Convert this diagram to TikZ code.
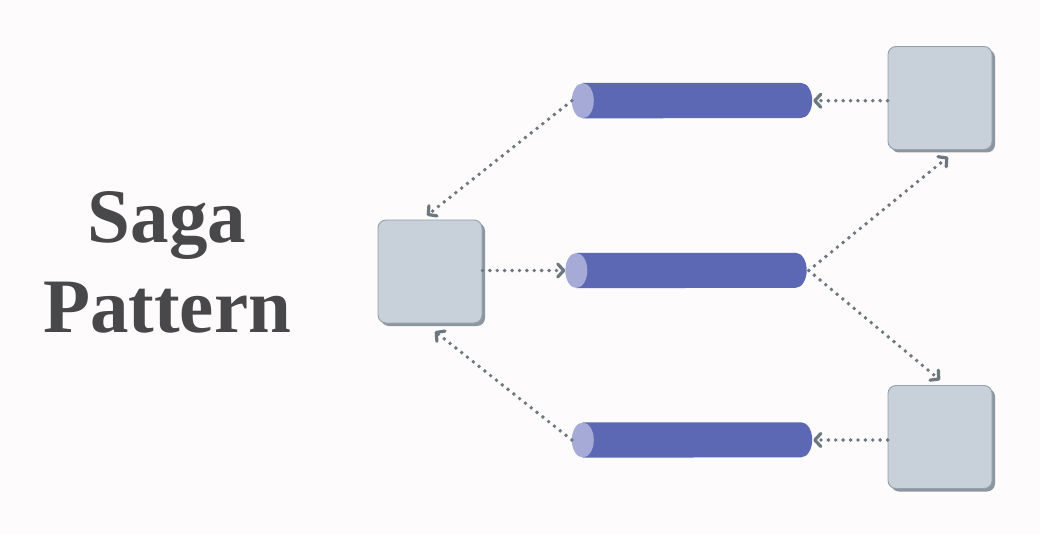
\documentclass[tikz,border=0pt]{standalone}
\usepackage{fontspec}
\setmainfont{Liberation Serif}
\usetikzlibrary{arrows.meta,shadows}
\definecolor{bgcol}{RGB}{253,251,251}
\definecolor{boxfill}{RGB}{200,208,217}
\definecolor{boxedge}{RGB}{150,160,170}
\definecolor{boxshadow}{RGB}{140,150,160}
\definecolor{cylbody}{RGB}{92,104,180}
\definecolor{cylcap}{RGB}{166,170,215}
\definecolor{conncol}{RGB}{108,119,128}
\definecolor{titlecol}{RGB}{72,72,75}
\tikzset{
  svcbox/.style={draw=boxedge, fill=boxfill, line width=0.9pt, rounded corners=8pt,
    minimum width=104pt, minimum height=103pt, inner sep=0pt,
    drop shadow={shadow xshift=3pt, shadow yshift=-3pt, fill=boxshadow, opacity=1}},
  cylnode/.style={draw=none, inner sep=0pt, minimum width=240pt, minimum height=35pt},
  conn/.style={draw=conncol, line width=3.9pt, line cap=round, dash pattern=on 0pt off 7.4pt,
    -{Straight Barb[length=6pt,width=13pt,line width=3.2pt,round]}},
  titletext/.style={text=titlecol, font=\fontsize{77}{89}\selectfont\bfseries, inner sep=0pt}
}
\newcommand{\drawcyl}[1]{%
  \fill[cylbody] ([xshift=11pt]#1.north west) -- ([xshift=-11pt]#1.north east)
    arc[start angle=90, end angle=-90, x radius=11pt, y radius=17.5pt]
    -- ([xshift=11pt]#1.south west) -- cycle;
  \fill[cylcap] ([xshift=11pt]#1.west) ellipse[x radius=11pt, y radius=17.5pt];
}
\begin{document}
\begin{tikzpicture}[x=1pt,y=-1pt]
  \fill[bgcol] (0,0) rectangle (1040,534);
  \useasboundingbox (0,0) rectangle (1040,534);

  % title
  \node[titletext, anchor=base] (t1) at (167,243) {Saga};
  \node[titletext, anchor=base] (t2) at (167,332) {Pattern};

  % services
  \node[svcbox] (b1) at (430,271.5) {};
  \node[svcbox] (b2) at (940,98) {};
  \node[svcbox] (b3) at (940,437) {};

  % channels
  \node[cylnode] (c1) at (692,100.7) {};
  \node[cylnode, minimum width=241pt] (c2) at (686,270.5) {};
  \node[cylnode] (c3) at (692,440) {};
  \drawcyl{c1}
  \drawcyl{c2}
  \drawcyl{c3}

  % connectors
  \draw[conn] (c1.west) -- ([xshift=-3pt,yshift=4pt]b1.north);
  \draw[conn] (c1.east -| b2.west) -- ([xshift=1pt]c1.east);
  \draw[conn] (b1.east |- c2.west) -- (c2.west);
  \draw[conn] ([xshift=2pt]c2.east) -- ([xshift=8pt,yshift=-7pt]b2.south);
  \draw[conn] ([xshift=2pt]c2.east) -- ([yshift=5pt]b3.north);
  \draw[conn] (c3.east -| b3.west) -- ([xshift=1pt]c3.east);
  \draw[conn] (c3.west) -- ([xshift=5pt,yshift=-8pt]b1.south);
\end{tikzpicture}
\end{document}
